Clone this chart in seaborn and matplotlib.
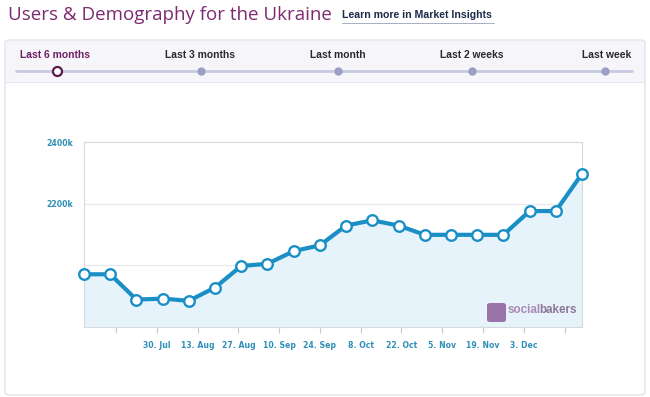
import matplotlib
matplotlib.use("Agg")
import matplotlib.pyplot as plt
import matplotlib.dates as mdates
from matplotlib.patches import FancyBboxPatch, Rectangle
from matplotlib.lines import Line2D
import seaborn as sns
import pandas as pd

# ---- data ----
dates = ["2012-07-05", "2012-07-14", "2012-07-23", "2012-08-01", "2012-08-10",
         "2012-08-19", "2012-08-28", "2012-09-06", "2012-09-15", "2012-09-24",
         "2012-10-03", "2012-10-12", "2012-10-21", "2012-10-30", "2012-11-08",
         "2012-11-17", "2012-11-26", "2012-12-05", "2012-12-14", "2012-12-23"]
users_k = [1971, 1971, 1889, 1892, 1885, 1928, 1998, 2005, 2046, 2065,
           2129, 2146, 2129, 2099, 2099, 2099, 2099, 2176, 2176, 2297]
tick_dates = ["2012-07-16", "2012-07-30", "2012-08-13", "2012-08-27", "2012-09-10",
              "2012-09-24", "2012-10-08", "2012-10-22", "2012-11-05", "2012-11-19",
              "2012-12-03", "2012-12-17"]
tick_labels = ["", "30. Jul", "13. Aug", "27. Aug", "10. Sep", "24. Sep", "8. Oct",
               "22. Oct", "5. Nov", "19. Nov", "3. Dec", ""]
y_ticks = [2000, 2200, 2400]
y_tick_labels = ["", "2200k", "2400k"]
tabs = ["Last 6 months", "Last 3 months", "Last month", "Last 2 weeks", "Last week"]
title = "Users & Demography for the Ukraine"
link_text = "Learn more in Market Insights"

df = pd.DataFrame({"date": pd.to_datetime(dates), "users": users_k})

W, H = 650, 397
sns.set_theme(style="white")
plt.rcParams["font.family"] = ["DejaVu Sans"]
fig = plt.figure(figsize=(W / 100, H / 100), dpi=100)
fig.patch.set_facecolor("white")

def fx(px):
    return px / W

def fy(py):
    return 1 - py / H

# panel box
panel = FancyBboxPatch((fx(5), fy(395)), fx(640), (395 - 40) / H,
                       boxstyle="round,pad=0,rounding_size=0.008",
                       transform=fig.transFigure, facecolor="white",
                       edgecolor="#e2e2ea", linewidth=1.0, zorder=-2)
fig.patches.append(panel)
# tab band
band = Rectangle((fx(6), fy(82)), fx(638), (82 - 41) / H, transform=fig.transFigure,
                 facecolor="#f5f5fa", edgecolor="none", zorder=-1)
fig.patches.append(band)
fig.lines.append(Line2D([fx(6), fx(644)], [fy(82), fy(82)], transform=fig.transFigure,
                        color="#e6e6ee", lw=0.8, zorder=-1))

# title
fig.text(fx(8), fy(15), title, fontsize=13.5, color="#7d2a70",
         family=["Open Sans", "DejaVu Sans"], va="center", ha="left")
fig.text(fx(342), fy(15), link_text, fontsize=7.6, color="#1c2a4a",
         family=["Liberation Sans Narrow", "Liberation Sans", "DejaVu Sans"],
         fontweight="bold", va="center", ha="left")
fig.lines.append(Line2D([fx(342), fx(494)], [fy(23), fy(23)], transform=fig.transFigure,
                        color="#9aa0b8", lw=0.6))

# slider
tab_x = [57, 201, 338, 472, 605]
tab_label_x = [56, 200, 338, 472, 605]
fig.lines.append(Line2D([fx(16), fx(632)], [fy(71), fy(71)], transform=fig.transFigure,
                        color="#c8cadf", lw=2.0, solid_capstyle="round"))
for i, (t, x) in enumerate(zip(tabs, tab_label_x)):
    color = "#6e1e62" if i == 0 else "#2a2a2a"
    ha = "center"
    if i == len(tabs) - 1:
        ha = "right"
        x = 631
    if i == 0:
        x = 20
        ha = "left"
    fig.text(fx(x), fy(55), t, fontsize=7.4, color=color, fontweight="bold",
             family=["Liberation Sans", "DejaVu Sans"], ha=ha, va="center")
for i, x in enumerate(tab_x):
    if i == 0:
        fig.lines.append(Line2D([fx(x)], [fy(71)], transform=fig.transFigure, marker="o",
                                markersize=6.5, markerfacecolor="white",
                                markeredgecolor="#5a1a4e", markeredgewidth=1.6))
    else:
        fig.lines.append(Line2D([fx(x)], [fy(71)], transform=fig.transFigure, marker="o",
                                markersize=5, markerfacecolor="#9c9ec6",
                                markeredgecolor="#9c9ec6"))

# chart axes
ax = fig.add_axes([fx(84), fy(327), fx(582) - fx(84), (327 - 142) / H])
ax.set_facecolor("white")
line_color = "#1a8fc6"
ax.fill_between(df["date"], df["users"], 1800, color="#e6f3fa", zorder=1)
sns.lineplot(data=df, x="date", y="users", ax=ax, color=line_color, linewidth=3.0,
             marker="o", markersize=7.6, markerfacecolor="white",
             markeredgecolor=line_color, markeredgewidth=1.7, zorder=5, clip_on=False)
ax.set_xlim(df["date"].iloc[0], df["date"].iloc[-1])
ax.set_ylim(1800, 2400)
ax.set_xlabel("")
ax.set_ylabel("")
ax.set_yticks(y_ticks)
ax.set_yticklabels(y_tick_labels)
ax.set_xticks(pd.to_datetime(tick_dates))
ax.set_xticklabels(tick_labels)
ax.grid(axis="y", color="#e8e8ee", linewidth=0.8)
ax.grid(axis="x", visible=False)
for s in ax.spines.values():
    s.set_color("#d8d8e0")
    s.set_linewidth(0.8)
ax.tick_params(axis="x", length=4, width=0.8, color="#c8c8d0", labelsize=5.6,
               labelcolor="#2f8fb8", pad=6, direction="out", bottom=True)
ax.tick_params(axis="y", length=0, labelsize=5.6, labelcolor="#2f8fb8", pad=8, left=False)
for lab in ax.get_xticklabels() + ax.get_yticklabels():
    lab.set_fontweight("bold")

# watermark logo
logo = FancyBboxPatch((fx(487), fy(322)), fx(19), 19 / H,
                      boxstyle="round,pad=0,rounding_size=0.005",
                      transform=fig.transFigure, facecolor="#9a74a8", edgecolor="none",
                      zorder=6)
fig.patches.append(logo)
t_bakers = fig.text(fx(577), fy(310), "bakers", fontsize=8.4, color="#8c7898",
                    fontweight="bold", family=["Liberation Sans", "DejaVu Sans"],
                    ha="right", va="center")
fig.canvas.draw()
bb = t_bakers.get_window_extent(renderer=fig.canvas.get_renderer())
x_start = bb.x0 / (fig.dpi * fig.get_figwidth())
fig.text(x_start + 1.5 / W, fy(310), "social", fontsize=8.4, color="#a98ab6",
         fontweight="bold", family=["Liberation Sans", "DejaVu Sans"],
         ha="right", va="center")

fig.savefig("out.png", dpi=100, facecolor="white")
